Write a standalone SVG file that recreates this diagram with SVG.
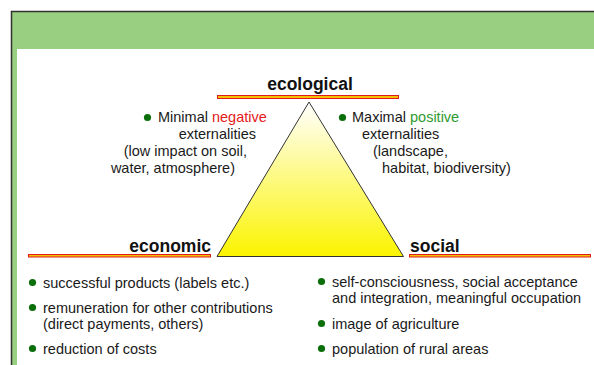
<svg xmlns="http://www.w3.org/2000/svg" width="594" height="365" viewBox="0 0 594 365">
<defs>
<linearGradient id="tri" x1="0" y1="0" x2="0" y2="1">
<stop offset="0" stop-color="#ffffff"/>
<stop offset="1" stop-color="#fbf400"/>
</linearGradient>
<style>
.t{font-family:"Liberation Sans",Arial,sans-serif;font-size:14.5px;fill:#1a1a1a}
.h{font-family:"Liberation Sans",Arial,sans-serif;font-size:17.5px;font-weight:bold;fill:#111}
.b{fill:#0a6e0a}
.bar{fill:#f2c200;stroke:#e01b1b;stroke-width:1}
.neg{fill:#e21a1a}
.pos{fill:#2f9a2f}
</style>
</defs>
<rect width="594" height="365" fill="#ffffff"/>
<g id="frame">
<rect x="11" y="11" width="583" height="38" fill="#99cf80"/>
<rect x="11" y="11" width="6" height="354" fill="#99cf80"/>
<path d="M11.5 365 V11.5 H594" fill="none" stroke="#333" stroke-width="1.5"/>
</g>
<g id="triangle">
<polygon points="309,102 403.5,256.5 217,256.5" fill="url(#tri)" stroke="#333" stroke-width="1"/>
</g>
<g id="ecological">
<rect class="bar" x="217.5" y="95.5" width="181" height="3"/>
<text class="h" x="310" y="90" text-anchor="middle">ecological</text>
</g>
<g id="economic">
<rect class="bar" x="28.5" y="254.5" width="182" height="2.5"/>
<text class="h" x="211" y="252" text-anchor="end">economic</text>
</g>
<g id="social">
<rect class="bar" x="409.5" y="254.5" width="181" height="2.5"/>
<text class="h" x="410" y="252">social</text>
</g>
<g id="eco-left">
<circle class="b" cx="147.5" cy="117.5" r="3.6"/>
<text class="t" x="158" y="122">Minimal <tspan class="neg">negative</tspan></text>
<text class="t" x="256" y="139" text-anchor="end">externalities</text>
<text class="t" x="247" y="156" text-anchor="end">(low impact on soil,</text>
<text class="t" x="235" y="173" text-anchor="end">water, atmosphere)</text>
</g>
<g id="eco-right">
<circle class="b" cx="342.5" cy="117.5" r="3.6"/>
<text class="t" x="352" y="122">Maximal <tspan class="pos">positive</tspan></text>
<text class="t" x="362" y="139">externalities</text>
<text class="t" x="373" y="156">(landscape,</text>
<text class="t" x="382" y="173">habitat, biodiversity)</text>
</g>
<g id="economic-list">
<circle class="b" cx="32.5" cy="282.5" r="3.6"/>
<text class="t" x="43" y="288">successful products (labels etc.)</text>
<circle class="b" cx="32.5" cy="307.5" r="3.6"/>
<text class="t" x="43" y="313">remuneration for other contributions</text>
<text class="t" x="43" y="329">(direct payments, others)</text>
<circle class="b" cx="32.5" cy="348.5" r="3.6"/>
<text class="t" x="43" y="354">reduction of costs</text>
</g>
<g id="social-list">
<circle class="b" cx="321.5" cy="281.5" r="3.6"/>
<text class="t" x="332" y="287">self-consciousness, social acceptance</text>
<text class="t" x="332" y="303">and integration, meaningful occupation</text>
<circle class="b" cx="321.5" cy="323.5" r="3.6"/>
<text class="t" x="332" y="329">image of agriculture</text>
<circle class="b" cx="321.5" cy="348.5" r="3.6"/>
<text class="t" x="332" y="354">population of rural areas</text>
</g>
</svg>
